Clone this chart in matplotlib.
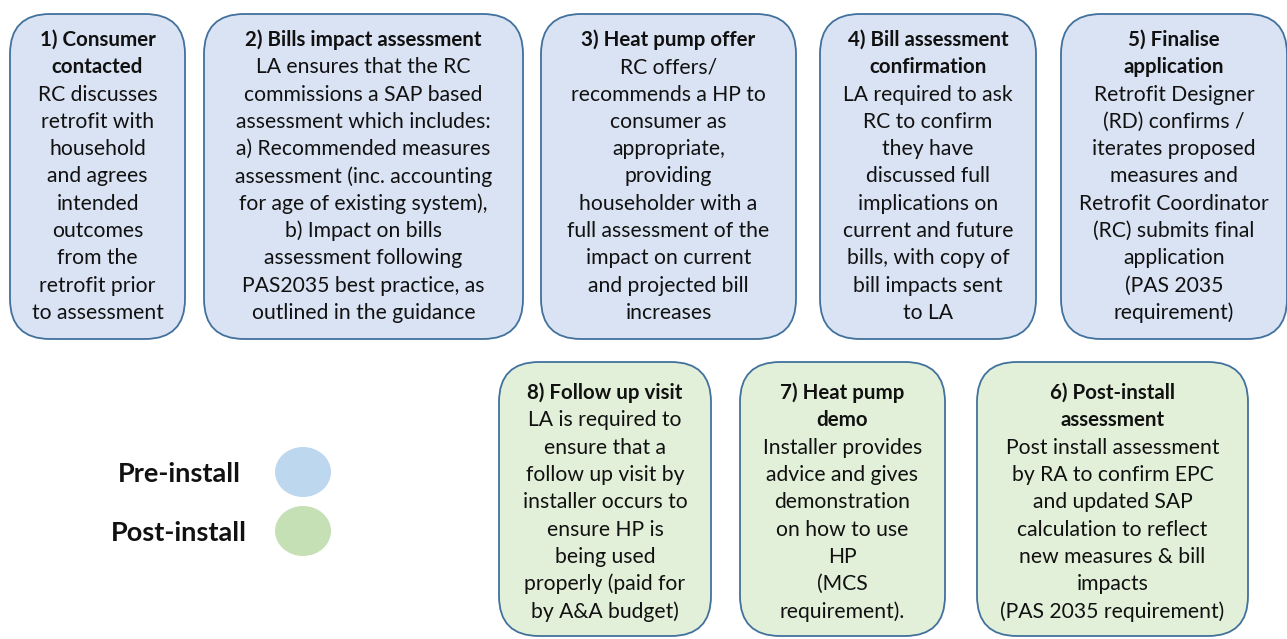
import matplotlib.pyplot as plt
from matplotlib.patches import FancyBboxPatch, Ellipse

# Box contents: (title lines, body lines)
titles = [
    ["1) Consumer", "contacted"],
    ["2) Bills impact assessment"],
    ["3) Heat pump offer"],
    ["4) Bill assessment", "confirmation"],
    ["5) Finalise", "application"],
    ["6) Post-install", "assessment"],
    ["7) Heat pump", "demo"],
    ["8) Follow up visit"],
]
bodies = [
    ["RC discusses", "retrofit with", "household", "and agrees", "intended",
     "outcomes", "from the", "retrofit prior", "to assessment"],
    ["LA ensures that the RC", "commissions a SAP based", "assessment which includes:",
     "a) Recommended measures", "assessment (inc. accounting",
     "for age of existing system),", "b) Impact on bills", "assessment following",
     "PAS2035 best practice, as", "outlined in the guidance"],
    ["RC offers/", "recommends a HP to", "consumer as", "appropriate,", "providing",
     "householder with a", "full assessment of the", "impact on current",
     "and projected bill", "increases"],
    ["LA required to ask", "RC to confirm", "they have", "discussed full",
     "implications on", "current and future", "bills, with copy of",
     "bill impacts sent", "to LA"],
    ["Retrofit Designer", "(RD) confirms /", "iterates proposed", "measures and",
     "Retrofit Coordinator", "(RC) submits final", "application", "(PAS 2035",
     "requirement)"],
    ["Post install assessment", "by RA to confirm EPC", "and updated SAP",
     "calculation to reflect", "new measures & bill", "impacts",
     "(PAS 2035 requirement)"],
    ["Installer provides", "advice and gives", "demonstration", "on how to use",
     "HP", "(MCS", "requirement)."],
    ["LA is required to", "ensure that a", "follow up visit by", "installer occurs to",
     "ensure HP is", "being used", "properly (paid for", "by A&A budget)"],
]
stages = ["pre", "pre", "pre", "pre", "pre", "post", "post", "post"]

legend_labels = ["Pre-install", "Post-install"]

# layout in pixel coordinates (x0, y0, x1, y1)
boxes = [
    (10, 14, 185, 339),
    (204, 14, 523, 339),
    (541, 14, 796, 339),
    (820, 14, 1036, 339),
    (1061, 14, 1287, 339),
    (977, 362, 1248, 636),
    (740, 362, 945, 636),
    (499, 362, 711, 636),
]
fill = {"pre": "#DAE3F3", "post": "#E2F0D9"}
dot = {"pre": "#BDD7EE", "post": "#C5E0B4"}
edge = "#41719C"

plt.rcParams['font.family'] = ['Lato', 'DejaVu Sans']

W, H = 1287, 639
fig = plt.figure(figsize=(W / 100, H / 100), dpi=100)
ax = fig.add_axes([0, 0, 1, 1])
ax.set_xlim(0, W)
ax.set_ylim(H, 0)
ax.axis('off')

step = 27.3
for (x0, y0, x1, y1), ttl, body, st in zip(boxes, titles, bodies, stages):
    p = FancyBboxPatch((x0, y0), x1 - x0, y1 - y0,
                       boxstyle="round,pad=0,rounding_size=40",
                       fc=fill[st], ec=edge, lw=1.3, clip_on=False)
    ax.add_patch(p)
    cx = (x0 + x1) / 2
    y = y0 + (26 if y0 < 100 else 31)
    for line in ttl:
        ax.text(cx, y, line, ha='center', va='center', fontsize=14.8,
                fontweight='bold', color='#111111')
        y += step
    for line in body:
        ax.text(cx, y, line, ha='center', va='center', fontsize=15.2,
                color='#111111')
        y += step

# legend
for i, (lab, st) in enumerate(zip(legend_labels, ["pre", "post"])):
    yy = 474 + i * 59
    ax.text(179, yy, lab, ha='center', va='center', fontsize=19.5,
            fontweight='bold', color='#111111')
    ax.add_patch(Ellipse((303, yy - 2), 56, 50, fc=dot[st], ec='none'))

fig.savefig('out.png', dpi=100)
